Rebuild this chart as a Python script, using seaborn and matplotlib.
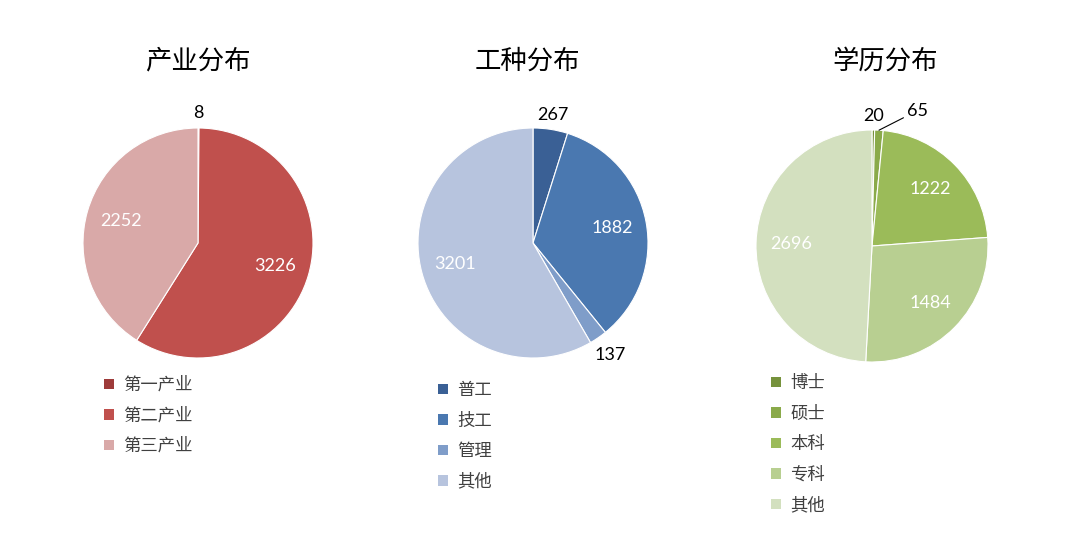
import numpy as np
import matplotlib
matplotlib.use("Agg")
import matplotlib.pyplot as plt
import seaborn as sns

# data
industry_labels = ['第一产业', '第二产业', '第三产业']
industry_values = [8, 3226, 2252]
industry_colors = ['#9E3B3A', '#C0504D', '#D9A9A8']

job_labels = ['普工', '技工', '管理', '其他']
job_values = [267, 1882, 137, 3201]
job_colors = ['#3A6095', '#4A78B0', '#7F9DC9', '#B7C4DE']

edu_labels = ['博士', '硕士', '本科', '专科', '其他']
edu_values = [20, 65, 1222, 1484, 2696]
edu_colors = ['#76923C', '#8AAA4A', '#9BBB59', '#B8CF91', '#D3E0BF']

titles = ['产业分布', '工种分布', '学历分布']

sns.set_theme(style="white")
plt.rcParams['font.family'] = ['Noto Sans CJK SC', 'DejaVu Sans']

W, H = 1080, 540
fig = plt.figure(figsize=(W / 100, H / 100), dpi=100)


def px_axes(cx, cy, r):
    return fig.add_axes([(cx - r) / W, (H - cy - r) / H, 2 * r / W, 2 * r / H])


def draw_pie(ax, values, colors, small_r, small_offsets):
    wedges, _ = ax.pie(values, colors=colors, startangle=90, counterclock=False,
                       radius=1, wedgeprops=dict(edgecolor='white', linewidth=0.8))
    ax.set_xlim(-1, 1)
    ax.set_ylim(-1, 1)
    ax.set_aspect('equal')
    ax.axis('off')
    total = sum(values)
    for i, (w, v) in enumerate(zip(wedges, values)):
        ang = np.deg2rad((w.theta1 + w.theta2) / 2)
        if v / total < 0.06:
            rr = small_r.get(i, 1.13)
            x, y = rr * np.cos(ang), rr * np.sin(ang)
            off = small_offsets.get(i)
            if off is not None:
                ax.annotate(str(v), xy=(np.cos(ang), np.sin(ang)), xytext=off,
                            textcoords='offset points', ha='left', va='center',
                            fontsize=13, family='Lato', color='black',
                            arrowprops=dict(arrowstyle='-', color='black', lw=0.8,
                                            shrinkA=0, shrinkB=0),
                            annotation_clip=False)
            else:
                ax.text(x, y, str(v), ha='center', va='center', fontsize=13,
                        family='Lato', color='black', clip_on=False)
        else:
            x, y = 0.7 * np.cos(ang), 0.7 * np.sin(ang)
            ax.text(x, y, str(v), ha='center', va='center', fontsize=13,
                    family='Lato', color='white')
    return wedges


ax1 = px_axes(198, 243, 115)
w1 = draw_pie(ax1, industry_values, industry_colors, {}, {})
ax2 = px_axes(533, 243, 115)
w2 = draw_pie(ax2, job_values, job_colors, {2: 1.18}, {})
ax3 = px_axes(872, 246, 116)
w3 = draw_pie(ax3, edu_values, edu_colors, {0: 1.12}, {1: (20, 14)})

for cx, t in zip([198, 527, 885], titles):
    fig.text(cx / W, 1 - 61 / H, t, ha='center', va='center', fontsize=19,
             color='black')

legend_pos = [(104, 376), (438, 381), (771, 374)]
for ax, wedges, labels, (lx, ly) in zip([ax1, ax2, ax3], [w1, w2, w3],
                                        [industry_labels, job_labels, edu_labels],
                                        legend_pos):
    leg = ax.legend(wedges, labels, loc='upper left',
                    bbox_to_anchor=(lx / W, 1 - ly / H),
                    bbox_transform=fig.transFigure, frameon=False,
                    fontsize=12.5, handlelength=0.55, handleheight=0.55,
                    handletextpad=0.55, labelspacing=0.72, borderpad=0,
                    borderaxespad=0)
    for txt in leg.get_texts():
        txt.set_color('#404040')
    for h in leg.legend_handles:
        h.set_edgecolor('none')

fig.savefig('out.png', dpi=100, facecolor='white')
